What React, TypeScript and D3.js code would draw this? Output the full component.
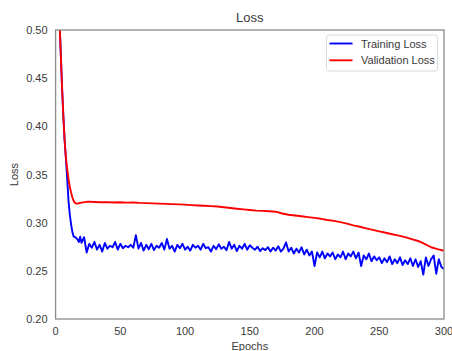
import React, { useEffect, useRef } from 'react';
import * as d3 from 'd3';

// training loss (epochs 1..20 every epoch, then every 2 epochs)
const trainEpochs: number[] = d3.range(1, 21).concat(d3.range(22, 301, 2));
const trainLoss: number[] = [
  0.59, 0.55, 0.51, 0.475, 0.44, 0.41, 0.385, 0.365, 0.345, 0.322,
  0.308, 0.298, 0.29, 0.2855, 0.285, 0.284, 0.2825, 0.28, 0.2855, 0.279,
  0.285, 0.269, 0.278, 0.274, 0.28, 0.272, 0.277, 0.27, 0.279, 0.273,
  0.276, 0.2745, 0.28, 0.272, 0.278, 0.2735, 0.276, 0.2745, 0.277, 0.274,
  0.287, 0.273, 0.279, 0.271, 0.277, 0.2725, 0.278, 0.2715, 0.276, 0.274,
  0.279, 0.272, 0.283, 0.273, 0.276, 0.27, 0.277, 0.2735, 0.278, 0.272,
  0.275, 0.271, 0.277, 0.274, 0.276, 0.272, 0.278, 0.2735, 0.2745, 0.27,
  0.276, 0.2725, 0.2775, 0.273, 0.275, 0.2715, 0.28, 0.273, 0.277, 0.2705,
  0.276, 0.273, 0.278, 0.272, 0.2765, 0.274, 0.272, 0.275, 0.2705, 0.2735,
  0.2715, 0.2745, 0.27, 0.274, 0.271, 0.2755, 0.27, 0.273, 0.2795, 0.27,
  0.274, 0.268, 0.273, 0.269, 0.2745, 0.267, 0.272, 0.266, 0.27, 0.255,
  0.269, 0.264, 0.27, 0.263, 0.268, 0.265, 0.269, 0.262, 0.267, 0.264,
  0.27, 0.262, 0.268, 0.265, 0.27, 0.263, 0.269, 0.255, 0.266, 0.262,
  0.268, 0.26, 0.265, 0.261, 0.264, 0.258, 0.263, 0.259, 0.265, 0.257,
  0.262, 0.258, 0.264, 0.256, 0.261, 0.257, 0.263, 0.255, 0.262, 0.254,
  0.26, 0.246, 0.264, 0.255, 0.262, 0.266, 0.247, 0.262, 0.254, 0.252,
];

// validation loss
const valEpochs: number[] = [
  1, 2, 3, 4, 5, 6, 7, 8, 9, 10, 11, 12, 13, 14, 15, 16, 17, 18, 20,
  25, 30, 35, 40, 45, 50, 55, 60, 65, 70, 75, 80, 85, 90, 95, 100,
  105, 110, 115, 120, 125, 130, 135, 140, 145, 150, 155, 160, 165, 170,
  175, 180, 185, 190, 195, 200, 205, 210, 215, 220, 225, 230, 235, 240,
  245, 250, 255, 260, 265, 270, 275, 280, 285, 290, 295, 300,
];
const valLoss: number[] = [
  0.59, 0.55, 0.51, 0.475, 0.44, 0.41, 0.385, 0.367, 0.355, 0.345, 0.337, 0.331, 0.326, 0.3225, 0.3205, 0.3198, 0.3198, 0.3202, 0.3208,
  0.3218, 0.3215, 0.3212, 0.3213, 0.321, 0.3212, 0.3208, 0.321, 0.3205, 0.3203, 0.32, 0.3198, 0.3195, 0.3192, 0.319, 0.3187,
  0.3182, 0.3178, 0.3175, 0.3172, 0.3168, 0.316, 0.3152, 0.3145, 0.3138, 0.3131, 0.3125, 0.3122, 0.3118, 0.3114,
  0.3095, 0.3082, 0.3075, 0.3066, 0.3058, 0.305, 0.304, 0.3028, 0.3018, 0.3005, 0.299, 0.2972, 0.2958, 0.294,
  0.2925, 0.291, 0.2895, 0.288, 0.2865, 0.285, 0.283, 0.281, 0.278, 0.2745, 0.2725, 0.2708,
];

const xTicks = [0, 50, 100, 150, 200, 250, 300];
const yTicks = [0.2, 0.25, 0.3, 0.35, 0.4, 0.45, 0.5];

const legendItems = [
  { label: 'Training Loss', color: '#0000ff' },
  { label: 'Validation Loss', color: '#ff0000' },
];

const W = 452;
const H = 351;
const margin = { top: 30, right: 8, bottom: 32, left: 55.6 };
const textColor = '#3a3a3a';
const font = '"Liberation Sans", Arial, sans-serif';

export default function App() {
  const svgRef = useRef<SVGSVGElement>(null);

  useEffect(() => {
    if (!svgRef.current) return;
    const svg = d3.select(svgRef.current);
    svg.selectAll('*').remove();

    const x = d3.scaleLinear().domain([0, 300]).range([margin.left, W - margin.right]);
    const y = d3.scaleLinear().domain([0.2, 0.5]).range([H - margin.bottom, margin.top]);

    svg.append('defs').append('clipPath').attr('id', 'plot-clip')
      .append('rect')
      .attr('x', x(0)).attr('y', y(0.5))
      .attr('width', x(300) - x(0)).attr('height', y(0.2) - y(0.5));

    svg.append('rect')
      .attr('width', W).attr('height', H).attr('fill', '#ffffff');

    const line = d3.line<[number, number]>()
      .x(d => x(d[0]))
      .y(d => y(d[1]));

    const plot = svg.append('g').attr('clip-path', 'url(#plot-clip)');

    plot.append('path')
      .datum(trainEpochs.map((e, i) => [e, trainLoss[i]] as [number, number]))
      .attr('d', line)
      .attr('fill', 'none')
      .attr('stroke', legendItems[0].color)
      .attr('stroke-width', 1.9)
      .attr('stroke-linejoin', 'round');

    plot.append('path')
      .datum(valEpochs.map((e, i) => [e, valLoss[i]] as [number, number]))
      .attr('d', line)
      .attr('fill', 'none')
      .attr('stroke', legendItems[1].color)
      .attr('stroke-width', 1.9)
      .attr('stroke-linejoin', 'round');

    // frame
    svg.append('rect')
      .attr('x', x(0)).attr('y', y(0.5))
      .attr('width', x(300) - x(0)).attr('height', y(0.2) - y(0.5))
      .attr('fill', 'none')
      .attr('stroke', '#8a8a8a')
      .attr('stroke-width', 1.3);

    // tick labels (no tick marks, seaborn white style)
    svg.append('g').selectAll('text')
      .data(xTicks)
      .join('text')
      .attr('x', d => x(d))
      .attr('y', y(0.2) + 16)
      .attr('text-anchor', 'middle')
      .attr('font-family', font)
      .attr('font-size', 11)
      .attr('fill', textColor)
      .text(d => d3.format('d')(d));

    svg.append('g').selectAll('text')
      .data(yTicks)
      .join('text')
      .attr('x', x(0) - 8)
      .attr('y', d => y(d) + 4)
      .attr('text-anchor', 'end')
      .attr('font-family', font)
      .attr('font-size', 11)
      .attr('fill', textColor)
      .text(d => d3.format('.2f')(d));

    svg.append('text')
      .attr('x', (x(0) + x(300)) / 2)
      .attr('y', 22)
      .attr('text-anchor', 'middle')
      .attr('font-family', font)
      .attr('font-size', 13)
      .attr('fill', textColor)
      .text('Loss');

    svg.append('text')
      .attr('x', (x(0) + x(300)) / 2)
      .attr('y', 349.5)
      .attr('text-anchor', 'middle')
      .attr('font-family', font)
      .attr('font-size', 11)
      .attr('fill', textColor)
      .text('Epochs');

    svg.append('text')
      .attr('transform', `translate(18, ${(y(0.2) + y(0.5)) / 2}) rotate(-90)`)
      .attr('text-anchor', 'middle')
      .attr('font-family', font)
      .attr('font-size', 11)
      .attr('fill', textColor)
      .text('Loss');

    // legend
    const legend = svg.append('g').attr('transform', 'translate(326.5, 35)');
    legend.append('rect')
      .attr('width', 111)
      .attr('height', 36)
      .attr('rx', 2.5)
      .attr('fill', '#ffffff')
      .attr('stroke', '#d6d6d6')
      .attr('stroke-width', 0.9);

    const rows = legend.selectAll('g.row')
      .data(legendItems)
      .join('g')
      .attr('class', 'row')
      .attr('transform', (_, i) => `translate(0, ${8.5 + i * 16.8})`);

    rows.append('line')
      .attr('x1', 3).attr('x2', 26)
      .attr('stroke', d => d.color)
      .attr('stroke-width', 1.9);

    rows.append('text')
      .attr('x', 34.5)
      .attr('y', 4)
      .attr('font-family', font)
      .attr('font-size', 11)
      .attr('fill', textColor)
      .text(d => d.label);
  }, []);

  return (
    <svg
      ref={svgRef}
      width={W}
      height={H}
      style={{ position: 'absolute', left: 0, top: 0, display: 'block' }}
    />
  );
}
